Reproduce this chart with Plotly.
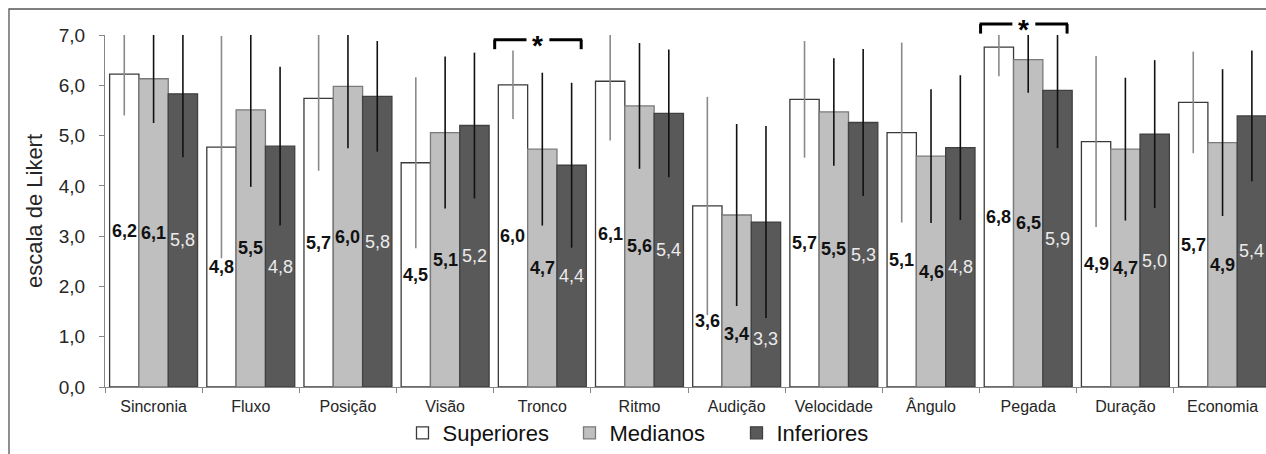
import plotly.graph_objects as go

# Likert-scale means per skill, by performance group
categories = ["Sincronia", "Fluxo", "Posição", "Visão", "Tronco", "Ritmo",
              "Audição", "Velocidade", "Ângulo", "Pegada", "Duração", "Economia"]

superiores = [6.22, 4.77, 5.74, 4.46, 6.01, 6.08, 3.60, 5.72, 5.06, 6.76, 4.88, 5.66]
medianos = [6.13, 5.51, 5.98, 5.06, 4.73, 5.59, 3.42, 5.47, 4.59, 6.51, 4.73, 4.86]
inferiores = [5.83, 4.79, 5.78, 5.20, 4.41, 5.44, 3.28, 5.26, 4.76, 5.90, 5.03, 5.39]

# standard deviations (error bars)
sd_superiores = [0.82, 2.21, 1.44, 1.70, 0.68, 1.18, 2.17, 1.16, 1.79, 0.58, 1.70, 1.01]
sd_medianos = [0.88, 1.53, 1.23, 1.51, 1.52, 1.25, 1.81, 1.07, 1.33, 0.66, 1.42, 1.46]
sd_inferiores = [1.26, 1.58, 1.10, 1.45, 1.64, 1.27, 1.91, 1.46, 1.44, 1.15, 1.47, 1.30]

# skills with a significant difference between groups
significant = ["Tronco", "Pegada"]

y_ticks = [0, 1, 2, 3, 4, 5, 6, 7]
grid_lines = [1, 2, 3, 4, 5, 6]

FONT = "Arial, Liberation Sans, sans-serif"
TEXT = "#262626"
AXIS = "#868686"
Y_MAX = 7.0
BARGAP = 0.095

groups = [
    dict(name="Superiores", y=superiores, sd=sd_superiores, fill="#ffffff",
         edge="#3a3a3a", err="#8a8a8a", label="#111111", bold=True),
    dict(name="Medianos", y=medianos, sd=sd_medianos, fill="#bfbfbf",
         edge="#7a7a7a", err="#111111", label="#111111", bold=True),
    dict(name="Inferiores", y=inferiores, sd=sd_inferiores, fill="#595959",
         edge="#404040", err="#111111", label="#ececec", bold=False),
]

# value labels of the Audição group sit a little lower than the bar centre
label_nudge = {"Audição": (-25, -33, -34)}


def fmt(v):
    return f"{v:.1f}".replace(".", ",")


fig = go.Figure()
for g in groups:
    fig.add_trace(go.Bar(
        name=g["name"], x=categories, y=g["y"],
        marker=dict(color=g["fill"], line=dict(color=g["edge"], width=1.3)),
        error_y=dict(type="data", array=g["sd"], symmetric=True,
                     color=g["err"], thickness=1.6, width=0),
    ))

bar_w = (1 - BARGAP) / len(groups)
annotations = []
for k, g in enumerate(groups):
    off = (k - (len(groups) - 1) / 2) * bar_w
    for i, v in enumerate(g["y"]):
        nudge = label_nudge.get(categories[i], (0, 0, 0))[k]
        annotations.append(dict(
            x=i + off, y=v / 2, xref="x", yref="y", text=fmt(v),
            showarrow=False, yshift=nudge,
            font=dict(family=FONT, size=18, color=g["label"],
                      weight="bold" if g["bold"] else "normal"),
        ))

# significance brackets above the flagged groups
shapes = []
for cat in significant:
    i = categories.index(cat)
    top_err = max(g["y"][i] + g["sd"][i] for g in groups)
    base = min(Y_MAX, top_err) / Y_MAX + 0.004
    top = base + 0.027
    x0, x1 = i - 0.49, i + 0.40
    xm = (x0 + x1) / 2
    gap = 0.118
    line = dict(color="#000000", width=3)
    for (a, b, c, d) in [(x0, base, x0, top), (x0 - 0.01, top, xm - gap, top),
                         (xm + gap, top, x1 + 0.01, top), (x1, top, x1, base)]:
        shapes.append(dict(type="line", xref="x", yref="paper",
                           x0=a, y0=b, x1=c, y1=d, line=line))
    annotations.append(dict(
        x=xm, y=top, xref="x", yref="paper", text="*", showarrow=False,
        yshift=12, font=dict(family=FONT, size=28, color="#000000", weight="bold"),
    ))

# outer chart frame
shapes.append(dict(type="rect", xref="paper", yref="paper",
                   x0=-0.0827, y0=-0.3, x1=1.05, y1=1.0739,
                   line=dict(color="#555555", width=1.3), fillcolor="rgba(0,0,0,0)"))

fig.update_layout(
    width=1266, height=454,
    margin=dict(l=105, r=0, t=35, b=67),
    paper_bgcolor="#ffffff", plot_bgcolor="#ffffff",
    separators=",.",
    barmode="group", bargap=BARGAP, bargroupgap=0,
    font=dict(family=FONT, color=TEXT),
    showlegend=True,
    legend=dict(orientation="h", x=0.472, xanchor="center", y=-0.131,
                yanchor="middle", font=dict(size=22, color="#111111"),
                entrywidth=122, entrywidthmode="pixels",
                bgcolor="rgba(0,0,0,0)"),
    xaxis=dict(type="category", range=[-0.5, 11.447], tickson="boundaries",
               ticks="outside", ticklen=5, tickcolor=AXIS, showline=True,
               linecolor=AXIS, linewidth=1, showgrid=False,
               ticklabelstandoff=5,
               tickfont=dict(size=16, color=TEXT)),
    yaxis=dict(range=[0, Y_MAX], tickmode="array", tickvals=y_ticks,
               tickformat=".1f", showgrid=False,
               showline=True, linecolor=AXIS, linewidth=1, zeroline=False,
               ticks="outside", ticklen=5, tickcolor=AXIS,
               ticklabelstandoff=10,
               tickfont=dict(size=19, color=TEXT),
               title=dict(text="escala de Likert", standoff=10,
                          font=dict(size=22, color=TEXT))),
    # horizontal gridlines for the inner tick values only
    yaxis2=dict(overlaying="y", anchor="x", range=[0, Y_MAX], tickmode="array",
                tickvals=grid_lines, showgrid=True, gridcolor="#c4c4c4",
                gridwidth=1, showticklabels=False, ticks="", showline=False,
                zeroline=False),
    annotations=annotations,
    shapes=shapes,
)

fig.write_html("out.html")
